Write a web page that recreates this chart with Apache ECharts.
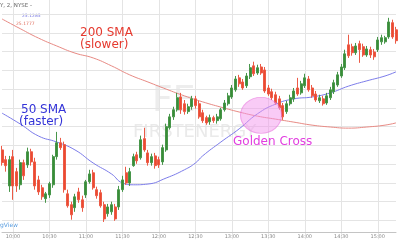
<!DOCTYPE html>
<html><head><meta charset="utf-8">
<script src="https://cdn.jsdelivr.net/npm/echarts@6/dist/echarts.min.js"></script>
<style>html,body{margin:0;padding:0;background:#fff}#c{width:400px;height:240px}</style>
</head><body><div id="c"></div>
<script>
const times = ["09:51","09:54","09:57",
"10:00","10:03","10:06","10:09","10:12","10:15","10:18","10:21","10:24","10:27",
"10:30","10:33","10:36","10:39","10:42","10:45","10:48","10:51","10:54","10:57",
"11:00","11:03","11:06","11:09","11:12","11:15","11:18","11:21","11:24","11:27",
"11:30","11:33","11:36","11:39","11:42","11:45","11:48","11:51","11:54","11:57",
"12:00","12:03","12:06","12:09","12:12","12:15","12:18","12:21","12:24","12:27",
"12:30","12:33","12:36","12:39","12:42","12:45","12:48","12:51","12:54","12:57",
"13:00","13:03","13:06","13:09","13:12","13:15","13:18","13:21","13:24","13:27",
"13:30","13:33","13:36","13:39","13:42","13:45","13:48","13:51","13:54","13:57",
"14:00","14:03","14:06","14:09","14:12","14:15","14:18","14:21","14:24","14:27",
"14:30","14:33","14:36","14:39","14:42","14:45","14:48","14:51","14:54","14:57",
"15:00","15:03","15:06","15:09","15:12","15:15"];

// [open, close, low, high]
const ohlc = [
[24.788,24.754,24.746,24.799],[24.762,24.746,24.730,24.772],[24.692,24.762,24.676,24.772],[24.770,24.692,24.655,24.788],
[24.730,24.692,24.676,24.740],[24.695,24.754,24.682,24.762],[24.754,24.719,24.708,24.762],[24.748,24.783,24.740,24.794],
[24.783,24.756,24.746,24.791],[24.756,24.692,24.682,24.767],[24.708,24.676,24.668,24.719],[24.687,24.663,24.655,24.695],
[24.658,24.671,24.647,24.676],[24.668,24.698,24.660,24.703],[24.695,24.770,24.687,24.775],[24.770,24.807,24.762,24.836],
[24.807,24.794,24.788,24.820],[24.802,24.682,24.674,24.810],[24.671,24.639,24.634,24.682],[24.642,24.615,24.602,24.650],
[24.634,24.663,24.623,24.671],[24.676,24.655,24.647,24.687],[24.655,24.634,24.623,24.666],[24.668,24.703,24.660,24.708],
[24.703,24.724,24.698,24.735],[24.727,24.687,24.682,24.735],[24.682,24.666,24.658,24.690],[24.674,24.639,24.634,24.682],
[24.642,24.604,24.596,24.650],[24.618,24.636,24.610,24.644],[24.623,24.642,24.615,24.650],[24.636,24.604,24.599,24.644],
[24.636,24.682,24.628,24.692],[24.682,24.708,24.676,24.719],[24.727,24.700,24.695,24.743],[24.700,24.730,24.692,24.740],
[24.746,24.770,24.743,24.778],[24.775,24.759,24.751,24.783],[24.767,24.815,24.762,24.826],[24.818,24.788,24.783,24.847],
[24.780,24.754,24.746,24.788],[24.754,24.770,24.746,24.778],[24.772,24.746,24.738,24.780],[24.762,24.748,24.740,24.770],
[24.756,24.794,24.748,24.802],[24.788,24.850,24.783,24.858],[24.847,24.876,24.842,24.884],[24.876,24.895,24.868,24.903],
[24.895,24.927,24.890,24.940],[24.929,24.895,24.884,24.940],[24.911,24.890,24.882,24.921],[24.890,24.903,24.884,24.911],
[24.903,24.924,24.895,24.932],[24.924,24.906,24.898,24.932],[24.911,24.876,24.871,24.919],[24.887,24.866,24.860,24.895],
[24.874,24.860,24.855,24.879],[24.863,24.874,24.855,24.882],[24.874,24.866,24.860,24.879],[24.866,24.876,24.858,24.884],
[24.871,24.895,24.866,24.900],[24.895,24.913,24.890,24.921],[24.911,24.932,24.906,24.940],[24.929,24.953,24.924,24.961],
[24.948,24.977,24.943,24.985],[24.980,24.964,24.956,24.988],[24.969,24.953,24.948,24.977],[24.959,24.985,24.953,24.993],
[24.983,25.007,24.977,25.017],[25.012,24.991,24.985,25.023],[24.993,25.007,24.988,25.015],[25.009,24.993,24.988,25.017],
[25.001,24.945,24.940,25.009],[24.953,24.937,24.932,24.961],[24.943,24.927,24.921,24.951],[24.935,24.913,24.908,24.943],
[24.924,24.900,24.895,24.932],[24.906,24.876,24.868,24.913],[24.890,24.911,24.884,24.919],[24.911,24.927,24.906,24.935],
[24.924,24.945,24.916,24.953],[24.953,24.937,24.932,24.980],[24.940,24.964,24.935,24.972],[24.959,24.980,24.953,24.991],
[24.977,24.948,24.943,24.985],[24.953,24.932,24.927,24.961],[24.937,24.921,24.916,24.945],[24.919,24.927,24.913,24.935],
[24.924,24.911,24.906,24.932],[24.913,24.932,24.908,24.940],[24.927,24.948,24.921,24.956],[24.943,24.967,24.937,24.975],
[24.961,24.988,24.956,24.996],[24.985,25.009,24.980,25.017],[25.007,25.044,25.001,25.055],[25.068,25.039,25.033,25.095],
[25.063,25.047,25.039,25.071],[25.047,25.065,25.041,25.073],[25.071,25.055,25.020,25.079],[25.063,25.041,25.036,25.071],
[25.041,25.057,25.036,25.065],[25.055,25.041,25.033,25.063],[25.049,25.036,25.028,25.057],[25.055,25.081,25.049,25.089],
[25.076,25.087,25.068,25.095],[25.076,25.087,25.071,25.092],[25.089,25.129,25.084,25.140],[25.127,25.089,25.084,25.135],
[25.108,25.079,25.071,25.116]];

// [candle index, value]
const sma200 = [[0,25.137],[5,25.111],[10,25.086],[15,25.065],[20,25.046],[25,25.033],[30,25.012],[35,24.988],
[40,24.969],[45,24.950],[50,24.932],[55,24.916],[60,24.902],[65,24.889],[70,24.878],[75,24.870],[80,24.862],
[85,24.854],[90,24.849],[95,24.846],[100,24.849],[105,24.854],[108,24.860]];
const sma50 = [[0,24.886],[5,24.857],[10,24.825],[15,24.809],[20,24.788],[25,24.753],[30,24.724],[33,24.700],
[36,24.695],[40,24.697],[45,24.713],[50,24.735],[53,24.753],[55,24.772],[60,24.809],[65,24.844],[70,24.884],
[75,24.910],[80,24.924],[85,24.929],[90,24.940],[95,24.958],[100,24.972],[105,24.985],[108,24.996]];
const goldenCross = [[71, 24.880]];

const showTime = (i, v) => v.endsWith(':00') || v.endsWith(':30');
const chart = echarts.init(document.getElementById('c'), null, {renderer:'canvas'});
const FONT = 'DejaVu Sans';
chart.setOption({
  animation: false,
  backgroundColor: '#fff',
  grid: {left: 2, right: 4, top: -4.7, bottom: 0.8, outerBoundsMode: 'none', containLabel: false},
  xAxis: {
    type: 'category', data: times, boundaryGap: false, offset: -7.2,
    axisLine: {show: true, lineStyle: {color: '#c4c4c4', width: 1}},
    axisTick: {show: false},
    axisLabel: {interval: showTime, fontSize: 5, color: '#8a8a8a', margin: 2, fontFamily: FONT},
    splitLine: {show: true, interval: showTime, lineStyle: {color: '#e4e4e4', width: 1}}
  },
  yAxis: {
    type: 'value', min: 24.55, max: 25.20, interval: 0.05, scale: true,
    axisLine: {show: false}, axisTick: {show: false}, axisLabel: {show: false},
    splitLine: {show: true, showMinLine: false, showMaxLine: false, lineStyle: {color: '#e4e4e4', width: 1}}
  },
  series: [
    {type: 'line', data: sma200, smooth: true, symbol: 'none', z: 3,
     lineStyle: {color: '#e88a84', width: 1}},
    {type: 'line', data: sma50, smooth: true, symbol: 'none', z: 3,
     lineStyle: {color: '#7c7cea', width: 1}},
    {type: 'candlestick', data: ohlc, barWidth: 2.5, z: 4,
     itemStyle: {color: '#3a8c36', color0: '#ec4a30', borderColor: '#47964a', borderColor0: '#ec5a46', borderWidth: 1}},
    {type: 'scatter', data: goldenCross, symbol: 'circle', symbolSize: [41, 36], z: 5,
     itemStyle: {color: 'rgba(243,150,236,0.62)', borderColor: 'rgba(230,110,220,0.7)', borderWidth: 1}}
  ],
  graphic: [
    {type: 'text', left: 152, top: 84, z: 0, style: {text: 'FE', fontSize: 36, fontFamily: FONT, fill: '#ededed'}},
    {type: 'text', left: 133, top: 123, z: 0, style: {text: 'FIRSTENERGY', fontSize: 18, fontFamily: FONT, fill: '#eaeaea'}},
    {type: 'text', left: 0, top: 3, style: {text: 'Y, 2, NYSE -', fontSize: 5.5, fontFamily: FONT, fill: '#666'}},
    {type: 'text', left: 22, top: 13, style: {text: '25.1285', fontSize: 4.5, fontFamily: FONT, fill: '#7070e0'}},
    {type: 'text', left: 16, top: 21, style: {text: '25.1777', fontSize: 4.5, fontFamily: FONT, fill: '#e07060'}},
    {type: 'text', right: 382, top: 222, style: {text: 'TradingView', fontSize: 6, fontFamily: FONT, fill: '#5a9ee0'}},
    {type: 'text', left: 80, top: 27, z: 10, style: {text: '200 SMA', fontSize: 12, fontFamily: FONT, fill: '#e5392e'}},
    {type: 'text', left: 80, top: 39, z: 10, style: {text: '(slower)', fontSize: 12, fontFamily: FONT, fill: '#e5392e'}},
    {type: 'text', left: 21, top: 104, z: 10, style: {text: '50 SMA', fontSize: 12, fontFamily: FONT, fill: '#3434d8'}},
    {type: 'text', left: 19, top: 116, z: 10, style: {text: '(faster)', fontSize: 12, fontFamily: FONT, fill: '#3434d8'}},
    {type: 'text', left: 233, top: 136, z: 10, style: {text: 'Golden Cross', fontSize: 12, fontFamily: FONT, fill: '#e23ee0'}}
  ]
});
</script></body></html>
